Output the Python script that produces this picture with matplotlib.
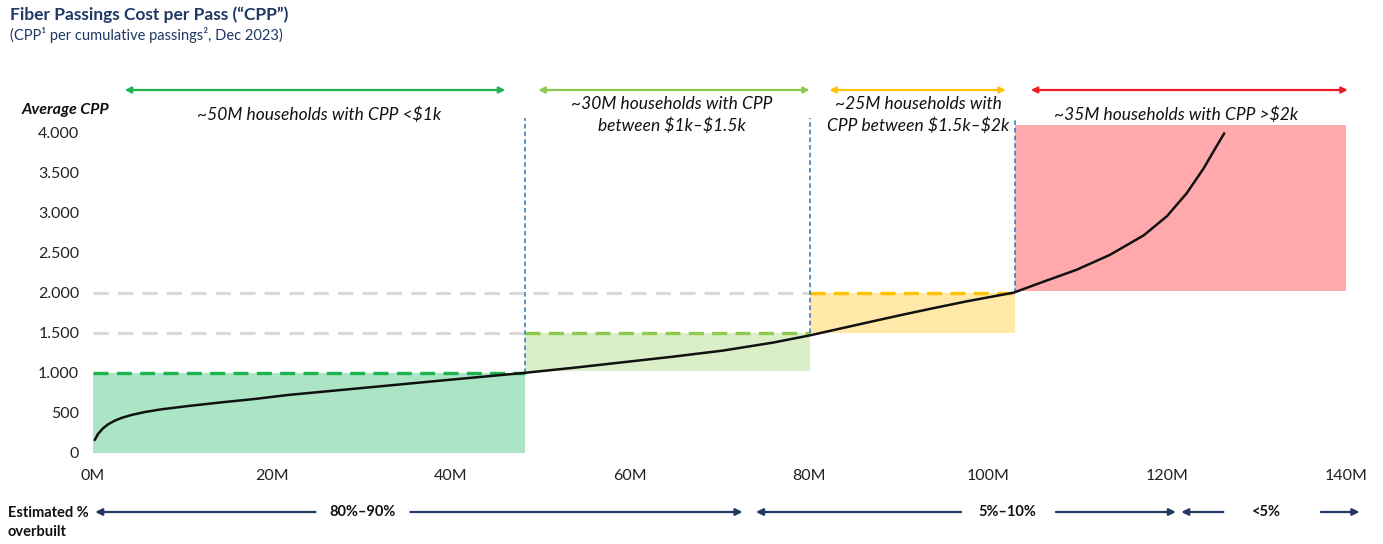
import matplotlib
matplotlib.use("Agg")
import matplotlib.pyplot as plt
import matplotlib.transforms as mtransforms
from matplotlib.patches import Rectangle
from matplotlib.ticker import FuncFormatter

# ---------------- data ----------------
passings_m = [0.25, 0.61, 1.17, 1.73, 2.48, 3.2, 4.33, 5.83, 7.69, 10.67, 14.4, 18.1,
              21.8, 29.7, 38.8, 48.1, 53.7, 59.3, 64.9, 70.4, 76.0, 80.1, 82.7, 86.5,
              90.2, 93.9, 97.6, 102.9, 106.2, 109.9, 113.6, 117.4, 120.0, 122.2, 124.1,
              125.4, 126.4]
avg_cpp = [162, 237, 308, 358, 404, 437, 475, 512, 546, 587, 633, 675,
           725, 808, 904, 1000, 1065, 1135, 1205, 1280, 1380, 1470, 1535, 1630,
           1722, 1810, 1895, 2005, 2141, 2290, 2475, 2720, 2960, 3246, 3558,
           3808, 3996]

band_start_m = [0.0, 48.3, 80.1, 103.0]
band_end_m = [48.3, 80.1, 103.0, 140.0]
band_low = [0, 1030, 1500, 2020]
band_high = [1000, 1500, 2000, 4100]
band_labels = ["~50M households with CPP <\\$1k",
               "~30M households with CPP\nbetween \\$1k\u2013\\$1.5k",
               "~25M households with\nCPP between \\$1.5k\u2013\\$2k",
               "~35M households with CPP >\\$2k"]
band_arrow_start = [3.6, 49.8, 82.3, 104.8]
band_arrow_end = [46.1, 80.1, 102.0, 140.2]
separator_low = [1000, 1500, 2000]

overbuilt_labels = ["80%\u201390%", "5%\u201310%", "<5%"]
overbuilt_start = [0.3, 74.1, 121.6]
overbuilt_end = [72.6, 121.0, 141.5]
overbuilt_text_x = [30.2, 102.2, 131.1]
overbuilt_gap_left = [24.9, 97.0, 126.3]
overbuilt_gap_right = [35.5, 107.6, 137.2]

x_ticks = [0, 20, 40, 60, 80, 100, 120, 140]
y_ticks = [0, 500, 1000, 1500, 2000, 2500, 3000, 3500, 4000]

# ---------------- style ----------------
FONT = ["Lato", "DejaVu Sans"]
plt.rcParams["font.family"] = FONT
NAVY = "#1F3864"
fill_colors = ["#ABE5C6", "#DAEFC8", "#FFE8A8", "#FFA9AD"]
line_colors = ["#1DB34F", "#8CCB4D", "#FFC000", "#EE1C25"]
VBLUE = "#2E75B6"
GREY = "#D9D9D9"

W, H = 1383, 544
fig = plt.figure(figsize=(W / 100, H / 100), dpi=100)
x0px, x1px, y0px, y1px = 92.5, 1346, 453, 125
ax = fig.add_axes([x0px / W, 1 - y0px / H, (x1px - x0px) / W, (y0px - y1px) / H])
ax.set_xlim(0, 140)
ax.set_ylim(0, 4100)
for s in ax.spines.values():
    s.set_visible(False)

ax.set_xticks(x_ticks)
ax.set_xticklabels([f"{t}M" for t in x_ticks])
ax.set_yticks(y_ticks)
ax.yaxis.set_major_formatter(FuncFormatter(lambda v, p: f"{int(v):,}".replace(",", ".")))
ax.tick_params(length=0, labelsize=11.5, colors="#222222", pad=9.5)
ax.tick_params(axis="x", pad=11.5)

# bands
for i in range(4):
    ax.add_patch(Rectangle((band_start_m[i], band_low[i]), band_end_m[i] - band_start_m[i],
                           band_high[i] - band_low[i], facecolor=fill_colors[i],
                           edgecolor="none", zorder=1))

# grey dashed guide lines
ax.plot([0, band_end_m[1]], [2000, 2000], color=GREY, lw=2.2, dashes=(5, 3), zorder=2)
ax.plot([0, band_end_m[0]], [1500, 1500], color=GREY, lw=2.2, dashes=(5, 3), zorder=2)

# coloured dashed thresholds
for i in range(3):
    ax.plot([band_start_m[i], band_end_m[i]], [band_high[i], band_high[i]],
            color=line_colors[i], lw=2.4, dashes=(4.5, 2.5), zorder=3)

# vertical blue dashed separators
for i in range(3):
    ax.plot([band_end_m[i], band_end_m[i]], [separator_low[i], 4190],
            color=VBLUE, lw=1.1, dashes=(3, 2), zorder=3, clip_on=False)

# curve
ax.plot(passings_m, avg_cpp, color="#111111", lw=1.8, zorder=4,
        solid_capstyle="round", solid_joinstyle="round")

# top band arrows & labels
tb = mtransforms.blended_transform_factory(ax.transData, fig.transFigure)
ya = 1 - 90 / H
for i in range(4):
    ax.annotate("", xy=(band_arrow_end[i], ya), xytext=(band_arrow_start[i], ya),
                xycoords=tb, textcoords=tb,
                arrowprops=dict(arrowstyle="<|-|>", color=line_colors[i], lw=1.6,
                                mutation_scale=9, shrinkA=0, shrinkB=0))
label_x = [25.3, 64.7, 92.2, 121.0]
label_y = [115, 115, 115, 115]
for i in range(4):
    fig.text(label_x[i], 1 - label_y[i] / H, band_labels[i], transform=tb,
             ha="center", va="center", fontsize=12.5, style="italic",
             color="#111111", linespacing=1.38)

fig.text(22 / W, 1 - 110 / H, "Average CPP", fontsize=11.5, fontweight="bold",
         style="italic", ha="left", va="center", color="#111111")

# titles
fig.text(10 / W, 1 - 15 / H, "Fiber Passings Cost per Pass (\u201cCPP\u201d)", fontsize=12.5,
         fontweight="bold", color=NAVY, ha="left", va="center")
fig.text(10 / W, 1 - 35 / H, "(CPP\u00b9 per cumulative passings\u00b2, Dec 2023)", fontsize=10.5,
         color=NAVY, ha="left", va="center")

# overbuilt row
yb = 1 - 512 / H
fig.text(8 / W, 1 - 513 / H, "Estimated %", fontsize=10.5, fontweight="bold",
         color="#111111", ha="left", va="center")
fig.text(8 / W, 1 - 532 / H, "overbuilt", fontsize=10.5, fontweight="bold",
         color="#111111", ha="left", va="center")
for i in range(3):
    ax.annotate("", xy=(overbuilt_start[i], yb), xytext=(overbuilt_gap_left[i], yb),
                xycoords=tb, textcoords=tb,
                arrowprops=dict(arrowstyle="-|>", color=NAVY, lw=1.6, mutation_scale=10,
                                shrinkA=0, shrinkB=0))
    ax.annotate("", xy=(overbuilt_end[i], yb), xytext=(overbuilt_gap_right[i], yb),
                xycoords=tb, textcoords=tb,
                arrowprops=dict(arrowstyle="-|>", color=NAVY, lw=1.6, mutation_scale=10,
                                shrinkA=0, shrinkB=0))
    fig.text(overbuilt_text_x[i], yb, overbuilt_labels[i], transform=tb, fontsize=10.5,
             fontweight="bold", color="#111111", ha="center", va="center")

fig.savefig("out.png", dpi=100)
